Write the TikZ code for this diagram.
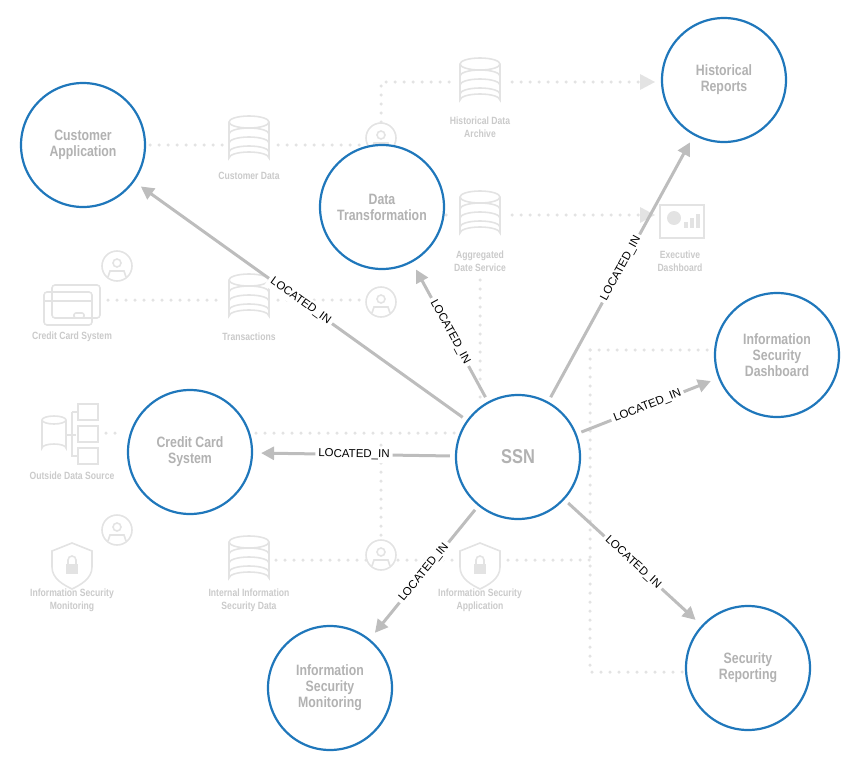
\documentclass[tikz,border=0pt]{standalone}
\usepackage{fontspec}
\setmainfont{Liberation Sans}
\newfontfamily\narrowfont[FakeStretch=0.82]{Liberation Sans Bold}
\newfontfamily\narrowthin[FakeStretch=0.82]{Liberation Sans Bold}
\usetikzlibrary{arrows.meta}
\definecolor{ringblue}{HTML}{1F77BB}
\definecolor{faint}{HTML}{E3E3E3}
\definecolor{fainttext}{HTML}{CACACA}
\definecolor{edgegray}{HTML}{BDBDBD}

\tikzset{
  entity/.style={circle, draw=ringblue, line width=2.2pt, minimum size=124pt,
    align=center, font=\narrowfont\fontsize{15}{16}\selectfont, text=gray!60},
  rel/.style={draw=edgegray, line width=3pt, -{Triangle[length=13pt,width=13pt]},
    shorten >=8pt, shorten <=5pt},
  rellabel/.style={fill=white, sloped, inner sep=3pt, font=\fontsize{11.5}{11.5}\selectfont},
  dots/.style={draw=faint, line width=3.5pt, dash pattern=on 0pt off 9pt, line cap=round},
  faintlabel/.style={align=center, text=fainttext, font=\narrowthin\fontsize{10.5}{13}\selectfont},
  iconline/.style={draw=faint, line width=1.6pt}
}

\newcommand{\dbicon}[1]{%
  \begin{scope}[shift={#1}]
    \draw[iconline] (-20,-18) -- (-20,18) arc (180:360:20 and 6) -- (20,-18);
    \draw[iconline] (0,-18) ellipse (20 and 6);
    \foreach \yy in {-6,3,12} \draw[iconline] (-20,\yy) arc (180:360:20 and 6);
  \end{scope}}
\newcommand{\personicon}[1]{%
  \begin{scope}[shift={#1}]
    \draw[iconline] (0,0) circle (15);
    \draw[iconline] (0,-3) circle (4);
    \draw[iconline] (-9,11) -- (-7,5) -- (7,5) -- (9,11);
  \end{scope}}
\newcommand{\shieldicon}[1]{%
  \begin{scope}[shift={#1}]
    \draw[iconline] (0,-22) -- (20,-14) -- (20,2) .. controls (20,14) and (8,20) .. (0,24)
      .. controls (-8,20) and (-20,14) .. (-20,2) -- (-20,-14) -- cycle;
    \fill[faint] (-6,-1) rectangle (6,9);
    \draw[iconline] (-4,-1) -- (-4,-5) arc (180:360:4) -- (4,-1);
  \end{scope}}

\begin{document}
\begin{tikzpicture}[x=1pt, y=-1pt]
  \useasboundingbox (0,0) rectangle (862,771);

  % Background flow
  \draw[dots] (150,145) -- (222,145);
  \draw[dots] (278,145) -- (366,145);
  \draw[dots] (381,122) -- (381,82) -- (452,82);
  \draw[dots] (512,82) -- (640,82);
  \fill[faint] (640,74) -- (655,82) -- (640,90) -- cycle;
  \draw[dots] (446,215) -- (452,215);
  \draw[dots] (512,215) -- (640,215);
  \fill[faint] (640,207) -- (655,215) -- (640,223) -- cycle;
  \draw[dots] (108,300) -- (222,300);
  \draw[dots] (278,300) -- (366,300);
  \draw[dots] (480,280) -- (480,400);
  \draw[dots] (106,433) -- (124,433);
  \draw[dots] (256,433) -- (455,433);
  \draw[dots] (381,445) -- (381,540);
  \draw[dots] (276,560) -- (366,560);
  \draw[dots] (398,560) -- (456,560);
  \draw[dots] (508,560) -- (590,560);
  \draw[dots] (590,350) -- (713,350);
  \draw[dots] (590,350) -- (590,672) -- (686,672);

  % Background icons
  \dbicon{(249,140)}
  \dbicon{(480,82)}
  \dbicon{(480,215)}
  \dbicon{(249,298)}
  \dbicon{(249,560)}
  \personicon{(381,138)}
  \personicon{(381,302)}
  \personicon{(117,266)}
  \personicon{(381,555)}
  \personicon{(117,530)}
  \shieldicon{(72,565)}
  \shieldicon{(480,565)}
  % credit card
  \draw[iconline, rounded corners=3pt] (52,285) rectangle (100,318);
  \draw[iconline, rounded corners=3pt] (44,292) rectangle (92,325);
  \draw[iconline] (44,301) -- (92,301);
  \draw[iconline, rounded corners=2pt] (74,313) rectangle (84,318);
  % outside data source
  \draw[iconline] (42,420) -- (42,448) arc (180:360:12 and 4) -- (66,420);
  \draw[iconline] (54,420) ellipse (12 and 4);
  \draw[iconline] (66,435) -- (76,435) (72,412) -- (72,456) -- (78,456) (72,412) -- (78,412);
  \foreach \yy in {412,434,456}
    \draw[iconline] (78,\yy-8) rectangle (98,\yy+8);
  % executive dashboard
  \draw[iconline] (660,205) rectangle (704,238);
  \fill[faint] (674,218) circle (7);
  \foreach \xx/\hh in {686/6,692/10,698/14}
    \fill[faint] (\xx-2,228) rectangle (\xx+2,228-\hh);

  % Background labels
  \node[faintlabel] (lcd) at (249,176) {Customer Data};
  \node[faintlabel] (lhda) at (480,127) {Historical Data\\Archive};
  \node[faintlabel] (lads) at (480,261) {Aggregated\\Date Service};
  \node[faintlabel] (led) at (680,261) {Executive\\Dashboard};
  \node[faintlabel] (lccs) at (72,337) {Credit Card System};
  \node[faintlabel] (ltr) at (249,337) {Transactions};
  \node[faintlabel] (lods) at (72,476) {Outside Data Source};
  \node[faintlabel] (lism) at (72,600) {Information Security\\Monitoring};
  \node[faintlabel] (liisd) at (249,600) {Internal Information\\Security Data};
  \node[faintlabel] (lisa) at (480,600) {Information Security\\Application};

  % Entities
  \node[entity, fill=white] (custapp) at (83,145) {Customer\\Application};
  \node[entity, fill=white] (datatrans) at (382,207) {Data\\Transformation};
  \node[entity, fill=white] (histrep) at (724,80) {Historical\\Reports};
  \node[entity, fill=white] (isdash) at (777,355) {Information\\Security\\Dashboard};
  \node[entity, fill=white] (ccsys) at (190,452) {Credit Card\\System};
  \node[entity, fill=white, font=\narrowfont\fontsize{20}{20}\selectfont] (ssn) at (518,457) {SSN};
  \node[entity, fill=white] (ismon) at (330,688) {Information\\Security\\Monitoring};
  \node[entity, fill=white] (secrep) at (748,668) {Security\\Reporting};

  % Relations
  \foreach \target in {custapp, datatrans, histrep, isdash, ccsys, ismon, secrep}
    \draw[rel] (ssn) -- node[rellabel] {LOCATED\_IN} (\target);

\end{tikzpicture}
\end{document}
